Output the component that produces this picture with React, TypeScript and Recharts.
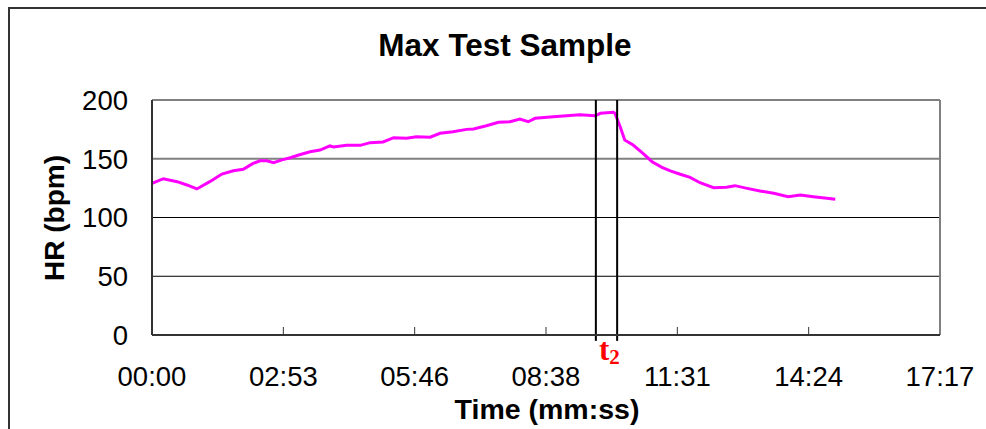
import React from 'react';
import { LineChart, Line, XAxis, YAxis, ReferenceLine } from 'recharts';

// sample times (s) and heart rate (bpm)
const times = [
  0, 15, 33, 46, 59, 76, 92, 107, 120, 133, 142, 151, 160, 171, 182, 193, 208, 221, 234, 239,
  256, 274, 287, 304, 318, 335, 348, 366, 379, 396, 414, 423, 440, 456, 471, 484, 495, 504,
  524, 541, 563, 583, 590, 607, 609, 616, 622, 633, 646, 658, 671, 682, 695, 708, 721, 739,
  756, 767, 783, 800, 818, 837, 853, 870, 888, 899,
];
const hr = [
  129, 133, 130.5, 127.7, 124.3, 130.5, 137, 139.8, 141, 146, 148.3, 148.3, 146.6, 149, 150.9,
  153.2, 156, 157.4, 160.9, 160, 161.4, 161.4, 163.7, 164.3, 167.9, 167.4, 168.8, 168.3, 171.7,
  173, 175, 175.3, 178.1, 181, 181.5, 183.8, 181.5, 184.4, 185.5, 186.4, 187.5, 186.6, 188.7,
  189.5, 188.7, 177.3, 166, 161.7, 154.6, 147.5, 142.7, 139.6, 136.8, 134.2, 129.6, 125.4,
  125.7, 127.1, 124.8, 122.6, 120.6, 117.7, 119.1, 117.7, 116.3, 115.5,
];

const xTicks = [0, 172.8, 345.6, 518.4, 691.2, 864, 1036.8];
const yTicks = [0, 50, 100, 150, 200];
const markerTimes = [584, 612];

const data = times.map((t, i) => ({ t, hr: hr[i] }));

const SANS = 'Liberation Sans, Arial, sans-serif';

const fmtTime = (s: number) => {
  const r = Math.round(s);
  const m = Math.floor(r / 60);
  const sec = r % 60;
  return `${String(m).padStart(2, '0')}:${String(sec).padStart(2, '0')}`;
};

const XTick = (props: any) => {
  const { x, y, payload } = props;
  return (
    <g>
      {payload.value > 0 && payload.value < 1036 && (
        <line x1={x} x2={x} y1={y} y2={y - 8} stroke="#333" strokeWidth={1} />
      )}
      <text x={x} y={y + 41} dy="0.36em" textAnchor="middle" fontSize={27.5} fontFamily={SANS} fill="#000">
        {fmtTime(payload.value)}
      </text>
    </g>
  );
};

const YTick = (props: any) => {
  const { x, y, payload } = props;
  return (
    <text x={x - 24} y={y} dy="0.36em" textAnchor="end" fontSize={27.5} fontFamily={SANS} fill="#000">
      {payload.value}
    </text>
  );
};

export default function App() {
  return (
    <div style={{ position: 'absolute', left: 0, top: 0, width: 986, height: 429, overflow: 'hidden', background: '#fff' }}>
      <div
        style={{
          position: 'absolute',
          left: 8,
          top: 7,
          width: 1100,
          height: 600,
          borderLeft: '2px solid #333',
          borderTop: '2px solid #333',
        }}
      />
      <div style={{ position: 'absolute', left: 0, top: 0 }}>
        <LineChart width={986} height={429} data={data} margin={{ top: 100, right: 46, bottom: 34, left: 92 }}>
          <XAxis
            type="number"
            dataKey="t"
            domain={[0, 1036.8]}
            ticks={xTicks}
            allowDataOverflow
            height={60}
            tickSize={0}
            tickMargin={0}
            tick={<XTick />}
            axisLine={{ stroke: '#333', strokeWidth: 2 }}
            tickLine={false}
          />
          <YAxis
            type="number"
            domain={[0, 200]}
            ticks={yTicks}
            width={60}
            tickSize={0}
            tickMargin={0}
            tick={<YTick />}
            axisLine={{ stroke: '#333', strokeWidth: 2 }}
            tickLine={false}
          />
          <ReferenceLine y={50} stroke="#000" strokeWidth={1} />
          <ReferenceLine y={100} stroke="#000" strokeWidth={1} />
          <ReferenceLine y={150} stroke="#808080" strokeWidth={2} />
          <ReferenceLine y={200} stroke="#808080" strokeWidth={2} />
          <ReferenceLine x={1036.8} stroke="#808080" strokeWidth={2} />
          <Line
            type="linear"
            dataKey="hr"
            stroke="#ff00ff"
            strokeWidth={3}
            dot={false}
            isAnimationActive={false}
          />
          {markerTimes.map((m) => (
            <ReferenceLine
              key={m}
              segment={[
                { x: m, y: -5 },
                { x: m, y: 200 },
              ]}
              ifOverflow="visible"
              stroke="#000"
              strokeWidth={2}
            />
          ))}
        </LineChart>
      </div>
      <svg width={986} height={429} style={{ position: 'absolute', left: 0, top: 0, pointerEvents: 'none' }}>
        <text x={505} y={56} textAnchor="middle" fontSize={31.5} fontWeight="bold" fontFamily={SANS} fill="#000">
          Max Test Sample
        </text>
        <text x={547} y={419} textAnchor="middle" fontSize={28.5} fontWeight="bold" fontFamily={SANS} fill="#000">
          Time (mm:ss)
        </text>
        <text
          x={64}
          y={218}
          transform="rotate(-90, 64, 218)"
          textAnchor="middle"
          fontSize={28}
          fontWeight="bold"
          fontFamily={SANS}
          fill="#000"
        >
          HR (bpm)
        </text>
        <text x={599} y={360} fontSize={31} fontWeight="bold" fontFamily="Liberation Serif, Times New Roman, serif" fill="#ff0000">
          t<tspan fontSize={21} dy={4}>2</tspan>
        </text>
      </svg>
    </div>
  );
}
